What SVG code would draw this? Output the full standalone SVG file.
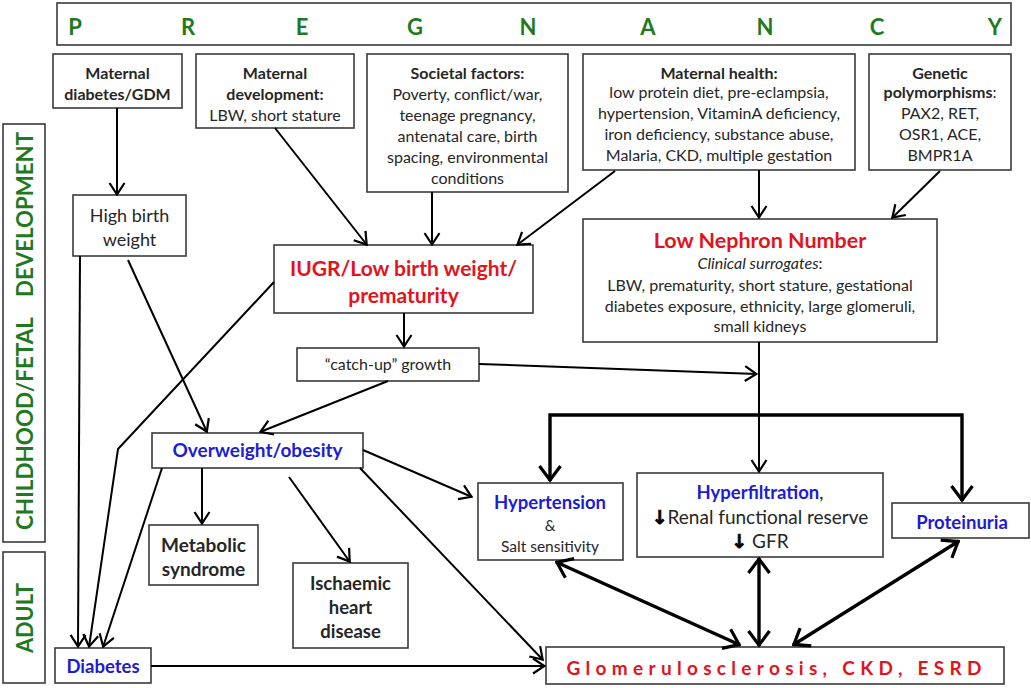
<svg xmlns="http://www.w3.org/2000/svg" width="1031" height="688" viewBox="0 0 1031 688">
<style>
.box{fill:#fff;stroke:#3a3a3a;stroke-width:1.6}
text{font-family:Lato,"Liberation Sans",sans-serif;fill:#262626;text-anchor:middle}
.t{font-size:16px}
.b{font-weight:bold}
text.g,.g text{fill:#1f7a1f;font-weight:bold;font-size:22px}
text.red{fill:#e3131b;font-weight:bold}
text.blue,tspan.blue{fill:#1c1cd6;font-weight:bold}
.ln{fill:none;stroke:#000;stroke-width:2}
.tk{fill:none;stroke:#000;stroke-width:3.4}
.dn{font-family:"DejaVu Sans",sans-serif;font-weight:bold;fill:#000;stroke:#000;stroke-width:0.7}
</style>
<defs>
<marker id="a" viewBox="0 0 14 18" refX="13" refY="9" markerWidth="14" markerHeight="18" orient="auto-start-reverse" markerUnits="userSpaceOnUse"><path d="M1,1.5 L12.5,9 L1,16.5" fill="none" stroke="#000" stroke-width="2.2"/></marker>
<marker id="k" viewBox="0 0 18 24" refX="16.5" refY="12" markerWidth="18" markerHeight="24" orient="auto-start-reverse" markerUnits="userSpaceOnUse"><path d="M1.5,1.5 L15.5,12 L1.5,22.5" fill="none" stroke="#000" stroke-width="3.2"/></marker>
</defs>

<g id="pregnancy">
<rect class="box" x="57" y="3" width="954" height="42"/>
<g class="g">
<text x="75" y="35">P</text><text x="188" y="35">R</text><text x="302" y="35">E</text><text x="415" y="35">G</text><text x="528" y="35">N</text><text x="648" y="35">A</text><text x="765" y="35">N</text><text x="877" y="35">C</text><text x="995" y="35">Y</text>
</g>
</g>

<g id="childhood">
<rect class="box" x="3" y="124" width="42" height="418"/>
<text class="g" transform="translate(32.5,214.5) rotate(-90)" textLength="165" lengthAdjust="spacingAndGlyphs">DEVELOPMENT</text>
<text class="g" transform="translate(32.5,423.5) rotate(-90)" textLength="213" lengthAdjust="spacingAndGlyphs">CHILDHOOD/FETAL</text>
</g>
<g id="adult">
<rect class="box" x="3" y="552" width="42" height="131"/>
<text class="g" transform="translate(32.5,618) rotate(-90)" textLength="70" lengthAdjust="spacingAndGlyphs">ADULT</text>
</g>

<g id="maternal-diabetes">
<rect class="box" x="53" y="54" width="129" height="54"/>
<text class="t b" x="117.5" y="79">Maternal</text>
<text class="t b" x="117.5" y="100">diabetes/GDM</text>
</g>
<g id="maternal-development">
<rect class="box" x="196" y="54" width="158" height="74"/>
<text class="t b" x="275" y="79">Maternal</text>
<text class="t b" x="275" y="100">development:</text>
<text class="t" x="275" y="121">LBW, short stature</text>
</g>
<g id="societal">
<rect class="box" x="367" y="54" width="201" height="138"/>
<text class="t b" x="467.5" y="79">Societal factors:</text>
<text class="t" x="467.5" y="100">Poverty, conflict/war,</text>
<text class="t" x="467.5" y="121">teenage pregnancy,</text>
<text class="t" x="467.5" y="142">antenatal care, birth</text>
<text class="t" x="467.5" y="163">spacing, environmental</text>
<text class="t" x="467.5" y="184">conditions</text>
</g>
<g id="maternal-health">
<rect class="box" x="583" y="54" width="272" height="116"/>
<text class="t b" x="719" y="79">Maternal health:</text>
<text class="t" x="719" y="98">low protein diet, pre-eclampsia,</text>
<text class="t" x="719" y="119">hypertension, VitaminA deficiency,</text>
<text class="t" x="719" y="140">iron deficiency, substance abuse,</text>
<text class="t" x="719" y="161">Malaria, CKD, multiple gestation</text>
</g>
<g id="genetic">
<rect class="box" x="869" y="54" width="142" height="116"/>
<text class="t b" x="940" y="79">Genetic</text>
<text class="t" x="940" y="98"><tspan class="b">polymorphisms</tspan>:</text>
<text class="t" x="940" y="119">PAX2, RET,</text>
<text class="t" x="940" y="140">OSR1, ACE,</text>
<text class="t" x="940" y="161">BMPR1A</text>
</g>

<g id="high-birth-weight">
<rect class="box" x="73" y="195" width="113" height="61"/>
<text x="129.5" y="222" style="font-size:18px">High birth</text>
<text x="129.5" y="246" style="font-size:18px">weight</text>
</g>
<g id="iugr">
<rect class="box" x="274" y="245" width="259" height="68"/>
<text class="red" x="403.5" y="276" style="font-size:21px">IUGR/Low birth weight/</text>
<text class="red" x="403.5" y="303" style="font-size:21px">prematurity</text>
</g>
<g id="low-nephron">
<rect class="box" x="583" y="219" width="354" height="123"/>
<text class="red" x="760" y="248" style="font-size:21.5px">Low Nephron Number</text>
<text class="t" x="760" y="269"><tspan font-style="italic">Clinical surrogates</tspan>:</text>
<text class="t" x="760" y="291">LBW, prematurity, short stature, gestational</text>
<text class="t" x="760" y="312">diabetes exposure, ethnicity, large glomeruli,</text>
<text class="t" x="760" y="332">small kidneys</text>
</g>
<g id="catch-up">
<rect class="box" x="297" y="348" width="182" height="33"/>
<text class="t" x="388" y="370">“catch-up” growth</text>
</g>
<g id="overweight">
<rect class="box" x="152" y="433" width="211" height="35"/>
<text class="blue" x="257.5" y="457" style="font-size:19px">Overweight/obesity</text>
</g>
<g id="metabolic">
<rect class="box" x="149" y="525" width="109" height="60"/>
<text class="b" x="203.5" y="552" style="font-size:19px">Metabolic</text>
<text class="b" x="203.5" y="576" style="font-size:19px">syndrome</text>
</g>
<g id="ischaemic">
<rect class="box" x="293" y="563" width="115" height="85"/>
<text class="b" x="350.5" y="590" style="font-size:18.5px">Ischaemic</text>
<text class="b" x="350.5" y="614" style="font-size:18.5px">heart</text>
<text class="b" x="350.5" y="638" style="font-size:18.5px">disease</text>
</g>
<g id="diabetes">
<rect class="box" x="55" y="648" width="96" height="35"/>
<text class="blue" x="103" y="673" style="font-size:18.5px">Diabetes</text>
</g>
<g id="hypertension">
<rect class="box" x="478" y="483" width="145" height="77"/>
<text class="blue" x="550" y="509" style="font-size:18.5px">Hypertension</text>
<text x="550" y="531" style="font-size:15px">&amp;</text>
<text x="550" y="552" style="font-size:15.5px">Salt sensitivity</text>
</g>
<g id="hyperfiltration">
<rect class="box" x="637" y="473" width="246" height="84"/>
<text x="760" y="499" style="font-size:18.5px"><tspan class="blue">Hyperfiltration</tspan>,</text>
<text x="760" y="524" style="font-size:19px"><tspan class="dn">↓</tspan>Renal functional reserve</text>
<text x="760" y="548" style="font-size:19px"><tspan class="dn">↓</tspan> GFR</text>
</g>
<g id="proteinuria">
<rect class="box" x="892" y="503" width="137" height="35"/>
<text class="blue" x="962" y="529" style="font-size:18.5px">Proteinuria</text>
</g>
<g id="glomerulosclerosis">
<rect class="box" x="546" y="647" width="458" height="37"/>
<text class="red" x="774" y="675" style="font-size:19px" textLength="415" lengthAdjust="spacing">Glomerulosclerosis, CKD, ESRD</text>
</g>

<g id="connectors">
<path class="ln" marker-end="url(#a)" d="M117,108 V195"/>
<path class="ln" marker-end="url(#a)" d="M275,128 L367,245"/>
<path class="ln" marker-end="url(#a)" d="M432,192 V245"/>
<path class="ln" marker-end="url(#a)" d="M615,171 L517,245"/>
<path class="ln" marker-end="url(#a)" d="M759,170 V218"/>
<path class="ln" marker-end="url(#a)" d="M940,171 L892,218"/>
<path class="ln" marker-end="url(#a)" d="M80,256 L78,647"/>
<path class="ln" marker-end="url(#a)" d="M128,260 L207,432"/>
<path class="ln" marker-end="url(#a)" d="M274,282 L118,449 L89,647"/>
<path class="ln" marker-end="url(#a)" d="M404,313 V347"/>
<path class="ln" marker-end="url(#a)" d="M388,381 L260,432"/>
<path class="ln" marker-end="url(#a)" d="M479,364 L757,374"/>
<path class="ln" marker-end="url(#a)" d="M759,342 V472"/>
<path class="tk" marker-start="url(#k)" marker-end="url(#k)" d="M550,481 V415 H962 V501"/>
<path class="ln" marker-end="url(#a)" d="M202,468 V524"/>
<path class="ln" marker-end="url(#a)" d="M289,477 L350,562"/>
<path class="ln" marker-end="url(#a)" d="M363,450 L472,497"/>
<path class="ln" marker-end="url(#a)" d="M360,468 L543,660"/>
<path class="ln" marker-end="url(#a)" d="M162,468 L103,647"/>
<path class="ln" marker-end="url(#a)" d="M151,666 H545"/>
<path class="tk" marker-start="url(#k)" marker-end="url(#k)" d="M556,562 L740,645"/>
<path class="tk" marker-start="url(#k)" marker-end="url(#k)" d="M759,558 V646"/>
<path class="tk" marker-start="url(#k)" marker-end="url(#k)" d="M959,541 L793,645"/>
</g>
</svg>
